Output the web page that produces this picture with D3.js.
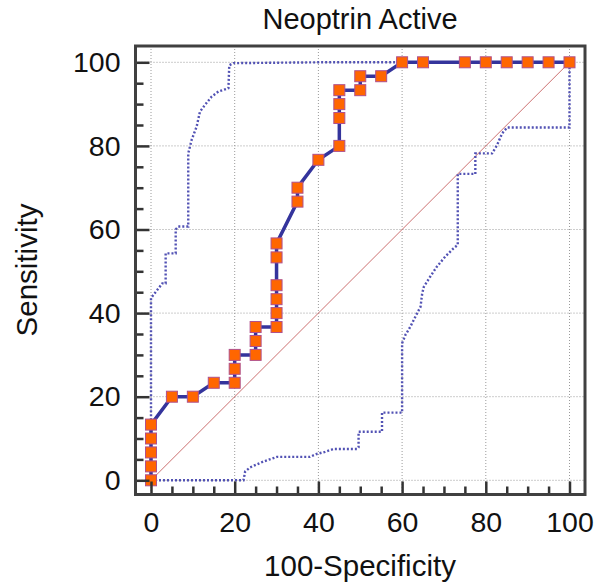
<!DOCTYPE html>
<html>
<head>
<meta charset="utf-8">
<script src="https://cdn.jsdelivr.net/npm/d3@7"></script>
<style>
  body { margin: 0; background: #fff; }
  text { font-family: "Liberation Sans", Arial, sans-serif; fill: #111; }
</style>
</head>
<body>
<svg id="chart" width="595" height="585"></svg>
<script>
// ROC points: [100-Specificity, Sensitivity]
const rocX = [0, 0, 0, 0, 0, 5, 10, 15, 20, 20, 20, 25, 25, 25, 30, 30, 30, 30, 30, 30,
    35, 35, 40, 45, 45, 45, 45, 50, 50, 55, 60, 65, 75, 80, 85, 90, 95, 100]
const rocY = [0, 3.33, 6.67, 10, 13.33, 20, 20, 23.33, 23.33, 26.67, 30, 30, 33.33, 36.67,
    36.67, 40, 43.33, 46.67, 53.33, 56.67, 66.67, 70, 76.67, 80, 86.67, 90, 93.33, 93.33,
    96.67, 96.67, 100, 100, 100, 100, 100, 100, 100, 100]

// confidence bounds
const upperX = [0, 0, 2.7, 3.5, 3.5, 5.9, 5.9, 6.5, 8.9, 8.9, 9.7, 10.9, 11.7, 12.9, 14.5,
    16.1, 18.5, 18.7, 19.7, 25, 30, 40, 100]
const upperY = [0, 43.6, 47.1, 47.1, 54.3, 54.3, 60, 60.7, 60.7, 78.2, 81.4, 84.6, 88.2, 89.8,
    91.8, 93, 93.8, 99.3, 99.8, 99.85, 99.9, 100, 100]

const lowerX = [0, 22.1, 22.5, 23.7, 26.9, 30.1, 38, 39.6, 41.6, 43.6, 49.2, 49.6, 49.6, 55.2,
    55.2, 60, 60, 60.8, 61.3, 62, 63.6, 64.4, 64.8, 65.2, 66.7, 68.3, 70.3, 72.3, 73.3, 73.3,
    77.5, 77.5, 81.5, 82.7, 83.9, 85.1, 100, 100]
const lowerY = [0, 0, 2.1, 3.1, 4.5, 5.6, 5.6, 6.3, 6.8, 7.5, 7.5, 7.9, 11.6, 11.6,
    16.2, 16.2, 32.8, 34.8, 35.6, 36.8, 40, 41.5, 44.7, 46.3, 48.7, 51.1, 53.5, 55.5, 56.3, 73.3,
    73.3, 78.2, 78.2, 80.2, 83, 84.4, 84.4, 100]

const majorTicks = [0, 20, 40, 60, 80, 100]
const minorTicks = d3.range(0, 101, 5).filter(v => v % 20 != 0)

const title = "Neoptrin Active"
const xTitle = "100-Specificity"
const yTitle = "Sensitivity"

const frame = { left: 135.5, top: 46, right: 585, bottom: 494.5 }

const svg = d3.select("#chart")

const xScale = d3.scaleLinear()
    .domain([0, 100])
    .range([151, 569.5])

const yScale = d3.scaleLinear()
    .domain([0, 100])
    .range([480.3, 62.3])

const toPts = (xs, ys) => xs.map((x, i) => [x, ys[i]])
const roc = toPts(rocX, rocY)
const upper = toPts(upperX, upperY)
const lower = toPts(lowerX, lowerY)

const line = d3.line()
    .x(d => xScale(d[0]))
    .y(d => yScale(d[1]))

// grid
const grid = svg.append("g")
grid.selectAll(".vg")
    .data(majorTicks)
    .join("line")
    .attr("x1", d => xScale(d)).attr("x2", d => xScale(d))
    .attr("y1", frame.top).attr("y2", frame.bottom)
grid.selectAll(".hg")
    .data(majorTicks)
    .join("line")
    .attr("class", "hg")
    .attr("x1", frame.left).attr("x2", frame.right)
    .attr("y1", d => yScale(d)).attr("y2", d => yScale(d))
grid.selectAll("line")
    .attr("stroke", "#9a9a9a")
    .attr("stroke-width", 1)
    .attr("stroke-dasharray", "1,2")

// diagonal reference
svg.append("path")
    .attr("d", line([[0, 0], [100, 100]]))
    .attr("stroke", "#cc7070")
    .attr("stroke-width", 1)
    .attr("fill", "none")

// confidence bands
svg.selectAll(".band")
    .data([upper, lower])
    .join("path")
    .attr("class", "band")
    .attr("d", line)
    .attr("fill", "none")
    .attr("stroke", "#5252b4")
    .attr("stroke-width", 2.4)
    .attr("stroke-dasharray", "2,2")

// ROC curve
svg.append("path")
    .attr("d", line(roc))
    .attr("fill", "none")
    .attr("stroke", "#34349c")
    .attr("stroke-width", 3.5)

const s = 11
svg.selectAll(".pt")
    .data(roc)
    .join("rect")
    .attr("class", "pt")
    .attr("x", d => xScale(d[0]) - s / 2)
    .attr("y", d => yScale(d[1]) - s / 2)
    .attr("width", s)
    .attr("height", s)
    .attr("fill", "#ff6600")
    .attr("stroke", "#b0508c")
    .attr("stroke-width", 1)

// axes (ticks point inward from the frame)
const yAxis = svg.append("g")
    .attr("transform", `translate(${frame.left},0)`)
    .call(d3.axisLeft(yScale).tickValues(majorTicks).tickSize(-14).tickPadding(15))
const yMinor = svg.append("g")
    .attr("transform", `translate(${frame.left},0)`)
    .call(d3.axisLeft(yScale).tickValues(minorTicks).tickSize(-8).tickFormat(""))

const xAxis = svg.append("g")
    .attr("transform", `translate(0,${frame.bottom})`)
    .call(d3.axisBottom(xScale).tickValues(majorTicks).tickSize(-13).tickPadding(17))
const xMinor = svg.append("g")
    .attr("transform", `translate(0,${frame.bottom})`)
    .call(d3.axisBottom(xScale).tickValues(minorTicks).tickSize(-8).tickFormat(""))

svg.selectAll(".domain").remove()
svg.selectAll(".tick line")
    .attr("stroke", "#333")
    .attr("stroke-width", 2.5)
svg.selectAll(".tick text")
    .style("font-size", "28.5px")
    .style("font-family", "'Liberation Sans', Arial, sans-serif")
    .attr("fill", "#111")

// frame
svg.append("rect")
    .attr("x", frame.left)
    .attr("y", frame.top)
    .attr("width", frame.right - frame.left)
    .attr("height", frame.bottom - frame.top)
    .attr("fill", "none")
    .attr("stroke", "#404040")
    .attr("stroke-width", 3)

// titles
svg.append("text")
    .attr("x", 360)
    .attr("y", 29)
    .attr("text-anchor", "middle")
    .style("font-size", "29px")
    .text(title)

svg.append("text")
    .attr("x", 360)
    .attr("y", 576)
    .attr("text-anchor", "middle")
    .style("font-size", "29.5px")
    .text(xTitle)

svg.append("text")
    .attr("transform", "translate(37,270) rotate(-90)")
    .attr("text-anchor", "middle")
    .style("font-size", "29.5px")
    .text(yTitle)
</script>
</body>
</html>
